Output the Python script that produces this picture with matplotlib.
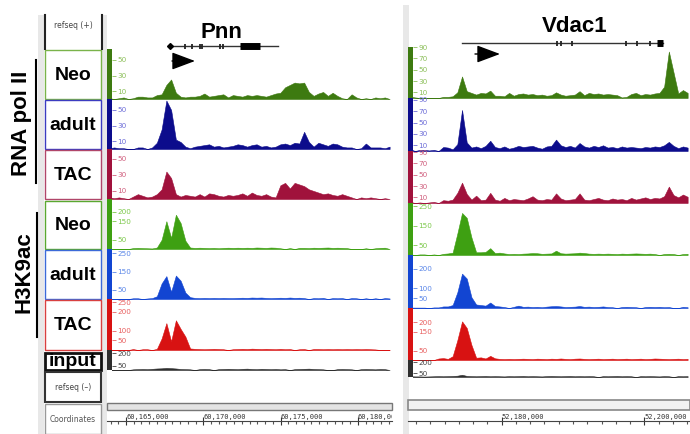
import numpy as np
import matplotlib.pyplot as plt
from matplotlib.patches import Rectangle

# genomic windows shown in the two panels (bp)
pnn_region = (60163770, 60182210)
vdac1_region = (52166860, 52206410)

# ChIP-seq signal, 60 bins across each window
pnn_pol_neo = [1, 0, 1, 2, 0, 1, 3, 3, 2, 2, 5, 6, 18, 25, 8, 3, 2, 3, 3, 4,
               7, 3, 4, 5, 6, 2, 5, 4, 3, 5, 4, 5, 4, 3, 5, 7, 8, 15, 18, 21,
               20, 21, 9, 4, 7, 9, 4, 8, 4, 1, 0, 6, 2, 0, 1, 0, 2, 1, 2, 0]
pnn_pol_adult = [1, 2, 1, 1, 0, 0, 2, 2, 0, 2, 8, 25, 62, 50, 12, 9, 3, 1, 3, 4,
                 5, 6, 3, 4, 2, 3, 4, 6, 5, 3, 5, 6, 3, 4, 2, 3, 6, 7, 5, 8,
                 7, 22, 9, 3, 8, 6, 4, 7, 6, 3, 2, 2, 0, 1, 7, 2, 2, 2, 1, 3]
pnn_pol_tac = [2, 1, 2, 1, 0, 3, 6, 4, 2, 3, 6, 12, 34, 26, 6, 3, 5, 4, 3, 6,
               3, 7, 6, 4, 3, 5, 4, 5, 7, 4, 8, 5, 4, 6, 3, 2, 17, 20, 13, 20,
               18, 16, 12, 10, 8, 6, 7, 5, 4, 6, 4, 2, 0, 2, 1, 2, 1, 0, 1, 0]
pnn_ac_neo = [0, 0, 0, 0, 0, 5, 6, 5, 4, 3, 8, 50, 150, 60, 185, 140, 45, 8, 6, 7,
              6, 5, 6, 4, 6, 7, 6, 7, 6, 7, 6, 8, 7, 6, 8, 7, 4, 0, 5, 0,
              6, 6, 5, 7, 6, 7, 8, 6, 7, 6, 5, 0, 0, 0, 4, 0, 4, 6, 7, 0]
pnn_ac_adult = [0, 0, 0, 0, 0, 4, 4, 0, 3, 5, 15, 85, 125, 40, 128, 100, 35, 10, 6, 5,
                6, 5, 6, 5, 6, 5, 5, 6, 7, 6, 8, 7, 8, 6, 5, 6, 7, 6, 8, 6,
                7, 5, 0, 5, 4, 6, 0, 5, 4, 5, 0, 5, 4, 0, 4, 0, 4, 0, 5, 3]
pnn_ac_tac = [0, 0, 0, 0, 0, 5, 0, 4, 4, 0, 6, 60, 140, 45, 155, 110, 70, 8, 6, 5,
              4, 5, 6, 5, 4, 0, 4, 5, 6, 5, 7, 6, 5, 6, 5, 4, 6, 4, 5, 0,
              4, 5, 0, 5, 5, 4, 5, 4, 5, 4, 5, 4, 5, 4, 5, 4, 3, 0, 0, 0]
pnn_input = [0, 0, 0, 0, 0, 8, 10, 12, 10, 14, 18, 20, 25, 22, 18, 12, 10, 8, 0, 10,
             12, 10, 0, 10, 12, 14, 12, 10, 14, 16, 12, 10, 14, 12, 10, 12, 8, 10, 0, 10,
             12, 14, 16, 12, 10, 8, 0, 0, 10, 12, 10, 8, 0, 10, 12, 10, 8, 12, 10, 0]

vdac_pol_neo = [2, 1, 0, 0, 0, 0, 0, 2, 2, 3, 10, 38, 12, 9, 6, 9, 8, 13, 4, 4,
                3, 9, 4, 7, 8, 6, 7, 5, 6, 4, 5, 10, 6, 4, 5, 6, 12, 5, 9, 7,
                8, 6, 7, 6, 5, 1, 2, 7, 9, 5, 7, 6, 8, 9, 20, 82, 45, 8, 14, 9]
vdac_pol_adult = [3, 0, 2, 2, 1, 2, 0, 7, 6, 3, 12, 72, 15, 6, 8, 5, 9, 18, 7, 5,
                  8, 4, 6, 9, 7, 8, 9, 6, 4, 8, 9, 20, 10, 7, 9, 6, 14, 8, 6, 9,
                  7, 10, 6, 7, 5, 8, 6, 7, 6, 5, 7, 6, 8, 7, 10, 16, 9, 5, 8, 6]
vdac_pol_tac = [2, 0, 1, 0, 1, 2, 0, 5, 4, 6, 18, 36, 16, 6, 13, 5, 6, 18, 6, 4,
                9, 5, 7, 6, 5, 8, 12, 6, 5, 7, 6, 17, 8, 5, 6, 7, 17, 6, 5, 7,
                9, 6, 5, 8, 6, 7, 5, 9, 6, 8, 10, 7, 9, 8, 12, 29, 14, 10, 15, 11]
vdac_ac_neo = [3, 0, 3, 3, 0, 3, 0, 6, 8, 12, 110, 215, 190, 90, 14, 14, 16, 35, 10, 12,
               8, 5, 6, 5, 7, 8, 10, 9, 6, 7, 8, 22, 9, 7, 8, 9, 12, 10, 7, 6,
               7, 6, 7, 6, 5, 7, 6, 7, 8, 7, 6, 7, 5, 0, 5, 6, 5, 0, 5, 6]
vdac_ac_adult = [2, 2, 2, 2, 0, 3, 3, 8, 8, 15, 80, 175, 150, 55, 18, 15, 12, 28, 10, 8,
                 5, 0, 6, 12, 6, 7, 5, 6, 4, 7, 9, 10, 8, 5, 6, 7, 10, 6, 7, 5,
                 6, 8, 5, 4, 0, 5, 6, 5, 4, 0, 5, 6, 5, 6, 4, 5, 0, 0, 6, 4]
vdac_ac_tac = [0, 0, 0, 0, 0, 0, 8, 10, 6, 20, 105, 205, 170, 80, 12, 14, 8, 22, 9, 6,
               5, 6, 5, 6, 7, 6, 5, 7, 6, 5, 7, 6, 8, 6, 5, 7, 8, 6, 5, 6,
               7, 5, 6, 7, 5, 6, 7, 5, 6, 7, 5, 6, 8, 7, 6, 5, 6, 7, 5, 6]
vdac_input = [10, 8, 8, 6, 8, 10, 12, 10, 12, 14, 18, 30, 15, 12, 10, 12, 14, 10, 12, 10,
              8, 12, 10, 12, 14, 10, 12, 10, 8, 12, 14, 12, 10, 12, 14, 10, 12, 10, 12, 10,
              0, 12, 10, 12, 14, 10, 12, 10, 0, 12, 10, 12, 10, 8, 12, 10, 0, 12, 10, 12]

# y-axis range and tick values of each track
pnn_tops = [64, 64, 62, 270, 273, 266, 237]
vdac_tops = [90, 93, 92, 266, 270, 276, 230]
pnn_ticks = [[10, 30, 50], [10, 30, 50], [10, 30, 50], [50, 150, 200],
             [50, 150, 250], [50, 100, 200, 250], [50, 200]]
vdac_ticks = [[10, 30, 50, 70, 90], [10, 30, 50, 70, 90], [10, 30, 50, 70, 90],
              [50, 150, 250], [50, 100, 200], [50, 150, 200], [50, 200]]

# gene models (bp)
pnn_gene = (60167846, 60174851)
pnn_exons = [60168816, 60169250, 60169787, 60169935, 60171080, 60171294]
pnn_cds = (60172374, 60173668)
pnn_tss_arrow = (60167975, 60169463)
vdac1_gene = (52174432, 52202622)
vdac1_exons = [52187798, 52188275, 52189818, 52197391, 52199018, 52200799]
vdac1_cds = (52201739, 52202665)
vdac1_tss_arrow = (52176255, 52179760)

pnn_coord_ticks = [60165000, 60170000, 60175000, 60180000]
vdac1_coord_ticks = [52180000, 52200000]

row_names = ['Neo', 'adult', 'TAC', 'Neo', 'adult', 'TAC', 'input']
track_colors = ['#3d7a10', '#0c0c8c', '#a0123c', '#3ea012', '#1245d2', '#d81212', '#2e2e2e']
tick_colors = ['#8cbf5a', '#6e6ed8', '#d0607f', '#7cc84a', '#5a86e8', '#e86060', '#444444']
box_colors = ['#7ab34a', '#3c3cc0', '#b0466a', '#5aa830', '#3c6ad8', '#d84040', '#111111']

W, H = 690, 434
pnn_rows = [(49, 99), (99, 149), (149, 199), (199, 249), (249, 299), (299, 350), (350, 370)]
vdac_rows = [(47, 98), (98, 151), (151, 203), (203, 255), (255, 308), (308, 360), (360, 377)]
box_rows = [(49, 99), (99, 149), (149, 199), (200, 249), (249, 299), (299, 350), (352, 370)]


def frac(x0, y0, x1, y1):
    return [x0 / W, 1 - y1 / H, (x1 - x0) / W, (y1 - y0) / H]


fig = plt.figure(figsize=(6.9, 4.34), dpi=100)
bold = dict(family='Liberation Sans', weight='bold')

# background layer in pixel coordinates
bg = fig.add_axes([0, 0, 1, 1], zorder=-1)
bg.set_xlim(0, W)
bg.set_ylim(H, 0)
bg.axis('off')
for x0, x1, y0 in [(38, 44, 15), (102, 107, 15), (403, 409, 5)]:
    bg.add_patch(Rectangle((x0, y0), x1 - x0, H - y0, fc='#e8e8e8', ec='none'))

# name boxes on the left
bg.add_patch(Rectangle((44, 15), 58, 34, fc='white', ec='none'))
bg.plot([44.5, 44.5], [15, 49], color='#222', lw=1.5)
bg.plot([101.5, 101.5], [15, 49], color='#222', lw=1.5)
bg.text(73, 25, 'refseq (+)', ha='center', va='center', fontsize=5.5, color='#444')
for name, (y0, y1), ec in zip(row_names, box_rows, box_colors):
    lw = 2 if name == 'input' else 1
    bg.add_patch(Rectangle((45, y0 + 0.5), 56, y1 - y0 - 1, fc='white', ec=ec, lw=lw))
    bg.text(73, (y0 + y1) / 2 + 1, name, ha='center', va='center', fontsize=14, **bold)
bg.add_patch(Rectangle((45, 372), 56, 30, fc='white', ec='#333', lw=1.5))
bg.text(73, 387, 'refseq (–)', ha='center', va='center', fontsize=5.5, color='#444')
bg.add_patch(Rectangle((45, 404), 56, 30, fc='white', ec='#999', lw=1))
bg.text(73, 420, 'Coordinates', ha='center', va='center', fontsize=5.5, color='#555')

bg.text(22, 123, 'RNA pol II', rotation=90, ha='center', va='center', fontsize=16, **bold)
bg.plot([36, 36], [60, 183], color='black', lw=1.5)
bg.text(24, 272, 'H3K9ac', rotation=90, ha='center', va='center', fontsize=16, **bold)
bg.plot([37, 37], [213, 337], color='black', lw=1.5)

# scale bars under the tracks
bg.add_patch(Rectangle((107, 403), 285, 7, fc='#e4e4e4', ec='#777', lw=1))
bg.add_patch(Rectangle((408, 400), 282, 10, fc='#f2f2f2', ec='#888', lw=1.2))


def draw_track(x0, x1, rows, region, vals, top, ticks, i):
    y0, y1 = rows
    cb = fig.add_axes(frac(x0, y0, x0 + 5, y1))
    cb.set_facecolor(track_colors[i])
    cb.set_xticks([])
    cb.set_yticks([])
    for s in cb.spines.values():
        s.set_visible(False)
    ax = fig.add_axes(frac(x0 + 5, y0, x1, y1))
    lo, hi = region
    edges = np.linspace(lo, hi, len(vals) + 1)
    centers = (edges[:-1] + edges[1:]) / 2
    ax.fill_between(centers, vals, color=track_colors[i], lw=0.4,
                    edgecolor=track_colors[i])
    ax.set_xlim(lo + (hi - lo) * 5 / (x1 - x0), hi)
    ax.set_ylim(0, top)
    ax.set_xticks([])
    ax.set_yticks(ticks)
    ax.tick_params(axis='y', direction='in', length=3, width=0.6, pad=-4,
                   labelsize=5.2, colors=tick_colors[i])
    for lab in ax.get_yticklabels():
        lab.set_horizontalalignment('left')
    for s in ax.spines.values():
        s.set_visible(False)
    ax.patch.set_alpha(0)


pnn_tracks = [pnn_pol_neo, pnn_pol_adult, pnn_pol_tac, pnn_ac_neo, pnn_ac_adult, pnn_ac_tac, pnn_input]
vdac_tracks = [vdac_pol_neo, vdac_pol_adult, vdac_pol_tac, vdac_ac_neo, vdac_ac_adult, vdac_ac_tac, vdac_input]
for i in range(7):
    draw_track(107, 392, pnn_rows[i], pnn_region, pnn_tracks[i], pnn_tops[i], pnn_ticks[i], i)
    draw_track(408, 690, vdac_rows[i], vdac1_region, vdac_tracks[i], vdac_tops[i], vdac_ticks[i], i)


def draw_gene(x0, x1, region, gene, exons, cds, arrow, y_line, y_arrow):
    g = fig.add_axes(frac(x0, 10, x1, 75))
    g.set_xlim(*region)
    g.set_ylim(75, 10)
    g.axis('off')
    g.plot(gene, [y_line, y_line], color='#333', lw=1)
    g.vlines(exons, y_line - 2.5, y_line + 2.5, color='#222', lw=1.3)
    g.plot(cds, [y_line, y_line], color='black', lw=5, solid_capstyle='butt')
    g.annotate('', xy=(arrow[1], y_arrow), xytext=(arrow[0], y_arrow),
               arrowprops=dict(arrowstyle='-|>,head_length=0.8,head_width=0.3',
                               mutation_scale=18, color='black', lw=1,
                               shrinkA=0, shrinkB=0))
    return g


gp = draw_gene(107, 392, pnn_region, pnn_gene, pnn_exons, pnn_cds, pnn_tss_arrow, 46, 61)
gp.plot(pnn_gene[0], 46, marker='D', ms=3, color='black')
draw_gene(408, 690, vdac1_region, vdac1_gene, vdac1_exons, vdac1_cds, vdac1_tss_arrow, 43, 54)
fig.text(221 / W, 1 - 33 / H, 'Pnn', ha='center', va='center', fontsize=16, **bold)
fig.text(575 / W, 1 - 27 / H, 'Vdac1', ha='center', va='center', fontsize=16, **bold)


def draw_coords(x0, x1, region, majors, minor_step):
    ca = fig.add_axes(frac(x0, 411, x1, 421))
    ca.set_xlim(*region)
    ca.set_ylim(0, 1)
    for side in ['top', 'left', 'right']:
        ca.spines[side].set_visible(False)
    ca.spines['bottom'].set_color('#444')
    ca.spines['bottom'].set_linewidth(0.8)
    ca.set_yticks([])
    ca.set_xticks(majors)
    ca.set_xticklabels([])
    start = np.ceil(region[0] / minor_step) * minor_step
    ca.set_xticks(np.arange(start, region[1], minor_step), minor=True)
    ca.tick_params(axis='x', which='major', direction='inout', length=6, width=0.8, color='#333')
    ca.tick_params(axis='x', which='minor', direction='out', length=2, width=0.8, color='#555')
    ca.patch.set_alpha(0)
    for m in majors:
        ca.text(m, 0.15, f'{m:,}', ha='left', va='bottom', fontsize=5,
                family='DejaVu Sans Mono', color='#333', clip_on=True)


draw_coords(107, 392, pnn_region, pnn_coord_ticks, 500)
draw_coords(408, 690, vdac1_region, vdac1_coord_ticks, 2000)

fig.savefig('out.png', dpi=100)
